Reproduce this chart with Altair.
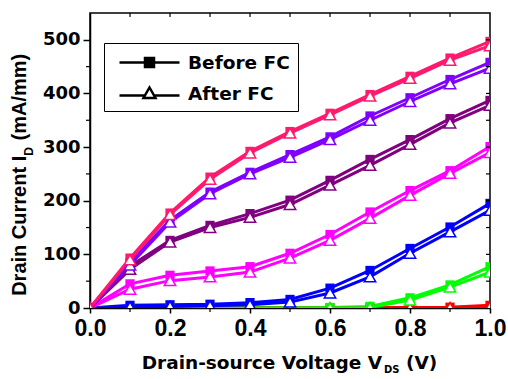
import altair as alt
import pandas as pd

# ---------------- data ----------------
vds = [0.0, 0.1, 0.2, 0.3, 0.4, 0.5, 0.6, 0.7, 0.8, 0.9, 1.0]

series_names = ["s1", "s2", "s3", "s4", "s5", "s6", "s7"]
series_colors = ["#FF0000", "#00FF00", "#0000FF", "#FF00FF", "#800080", "#7F00FF", "#FF1A6E"]

red_before = [0, 0, 0, 0, 0, 0, 0, 0.5, 1, 1.5, 5]
red_after = [0, 0, 0, 0, 0, 0, 0, 0, 0.5, 1, 2]
green_before = [0, 0.5, 0.5, 0.5, 0.5, 0.5, 1, 3, 19, 43, 77]
green_after = [0, 0, 0, 0, 0, 0, 0.5, 1, 15, 39, 67]
blue_before = [0, 5, 6, 7, 10, 16, 37, 70, 111, 151, 195]
blue_after = [0, 2, 3, 4, 6, 11, 28, 58, 102, 142, 182]
magenta_before = [0, 45, 61, 69, 77, 102, 137, 179, 219, 256, 301]
magenta_after = [0, 35, 51, 58, 67, 93, 126, 167, 210, 251, 290]
purple_before = [0, 78, 126, 154, 176, 201, 238, 277, 314, 353, 387]
purple_after = [0, 72, 123, 150, 169, 193, 229, 266, 305, 345, 378]
violet_before = [0, 85, 164, 216, 253, 286, 319, 358, 392, 426, 458]
violet_after = [0, 80, 160, 213, 250, 281, 314, 350, 385, 418, 447]
pink_before = [0, 93, 177, 244, 292, 329, 363, 398, 432, 466, 497]
pink_after = [0, 90, 174, 240, 289, 326, 360, 395, 428, 462, 489]

before_sets = [red_before, green_before, blue_before, magenta_before,
               purple_before, violet_before, pink_before]
after_sets = [red_after, green_after, blue_after, magenta_after,
              purple_after, violet_after, pink_after]

states = ["Before FC", "After FC"]

x_major = [0.0, 0.2, 0.4, 0.6, 0.8, 1.0]
x_minor = [0.1, 0.3, 0.5, 0.7, 0.9]
x_all = [0.1, 0.2, 0.3, 0.4, 0.5, 0.6, 0.7, 0.8, 0.9]
y_major = [0, 100, 200, 300, 400, 500]
y_minor = [50, 150, 250, 350, 450]
y_all = [50, 100, 150, 200, 250, 300, 350, 400, 450, 500]

x_title_main = "Drain-source Voltage V"
x_title_sub = "DS"
x_title_unit = "(V)"
y_title_main = "Drain Current I"
y_title_sub = "D"
y_title_unit = "(mA/mm)"

# ---------------- tables ----------------
rows_b, rows_a = [], []
for name, yb, ya in zip(series_names, before_sets, after_sets):
    for xv, vb, va in zip(vds, yb, ya):
        rows_b.append({"x": xv, "I": vb, "g": name})
        rows_a.append({"x": xv, "I": va, "g": name})
df_b = pd.DataFrame(rows_b)
df_a = pd.DataFrame(rows_a)

xs = alt.Scale(domain=[0, 1], nice=False)
ys = alt.Scale(domain=[0, 550], nice=False)
cs = alt.Scale(domain=series_names, range=series_colors)

x_axis = alt.Axis(values=x_major, format=".1f", title=None, grid=False, tickSize=5,
                  tickWidth=1.5, tickColor="black", domainColor="black", domainWidth=1.5,
                  labelFont="Liberation Sans", labelFontWeight="bold", labelFontSize=23,
                  labelColor="black", labelPadding=4, labelFlush=False, labelOverlap=False)
y_axis = alt.Axis(values=y_major, format="d", title=None, grid=False, tickSize=7,
                  tickWidth=1.5, tickColor="black", domainColor="black", domainWidth=1.5,
                  labelFont="DejaVu Sans", labelFontWeight="bold", labelFontSize=18,
                  labelColor="black", labelPadding=3, labelFlush=False, labelOverlap=False)

X = alt.X("x:Q", scale=xs, axis=x_axis)
Y = alt.Y("I:Q", scale=ys, axis=y_axis)
C = alt.Color("g:N", scale=cs, legend=None)

lines_b = alt.Chart(df_b).mark_line(strokeWidth=3, clip=True).encode(x=X, y=Y, color=C, detail="g:N")
pts_b = alt.Chart(df_b).mark_point(shape="square", filled=True, size=85, opacity=1, clip=True).encode(x=X, y=Y, color=C)
lines_a = alt.Chart(df_a).mark_line(strokeWidth=3, clip=True).encode(x=X, y=Y, color=C, detail="g:N")
pts_a = alt.Chart(df_a).mark_point(shape="triangle-up", filled=False, fill="white", fillOpacity=1,
                                   strokeWidth=1.5, size=130, opacity=1, clip=True).encode(x=X, y=Y, color=C)

# legend (hidden layer providing legend symbols)
sq_path = "M-0.4,0H2.15M3.05,0H5.6M2.15,-0.45H3.05V0.45H2.15Z"
tri_path = "M-0.4,0.2H2.14M3.06,0.2H5.6M2.6,-0.6L3.2,0.45H2.0Z"
leg_kw = dict(orient="none", legendX=14, legendY=30, direction="vertical", title=None,
              padding=8, strokeColor="black", fillColor="white", cornerRadius=0,
              labelFont="DejaVu Sans", labelFontWeight="bold", labelFontSize=18.5,
              labelColor="black", labelOffset=53, symbolSize=400, rowPadding=10,
              symbolStrokeWidth=2.5, symbolOpacity=1, labelLimit=400)
df_leg = pd.DataFrame({"state": states, "x": [0.0, 0.0], "I": [0, 0]})
legend_layer = alt.Chart(df_leg).mark_point(opacity=0, clip=True).encode(
    x=alt.X("x:Q", scale=xs), y=alt.Y("I:Q", scale=ys),
    shape=alt.Shape("state:N", scale=alt.Scale(domain=states, range=[sq_path, tri_path]),
                    legend=alt.Legend(**leg_kw)),
    fill=alt.Fill("state:N", scale=alt.Scale(domain=states, range=["black", "white"]),
                  legend=alt.Legend(**leg_kw)),
    stroke=alt.value("black"),
)

# extra ticks
def tick_df(vals):
    return pd.DataFrame({"v": vals})

top_ticks = alt.Chart(tick_df(x_all)).mark_rule(color="black", strokeWidth=1.2).encode(
    x=alt.X("v:Q", scale=xs), y=alt.value(0), y2=alt.value(4))
bot_minor = alt.Chart(tick_df(x_minor)).mark_rule(color="black", strokeWidth=1.2).encode(
    x=alt.X("v:Q", scale=xs), y=alt.value(295), y2=alt.value(299))
right_ticks = alt.Chart(tick_df(y_all)).mark_rule(color="black", strokeWidth=1.2).encode(
    y=alt.Y("v:Q", scale=ys), x=alt.value(396), x2=alt.value(400))
left_minor = alt.Chart(tick_df(y_minor)).mark_rule(color="black", strokeWidth=1.2).encode(
    y=alt.Y("v:Q", scale=ys), x=alt.value(-4), x2=alt.value(0))

# titles
one = pd.DataFrame({"k": [0]})
def txt(s, size, font, **kw):
    return alt.Chart(one).mark_text(text=s, fontSize=size, font=font, fontWeight="bold",
                                    color="black", **kw)

yt1 = txt(y_title_main, 20, "Liberation Sans", angle=270, align="right", baseline="middle").encode(
    x=alt.value(-70), y=alt.value(142.8))
yt2 = txt(y_title_sub, 12, "Liberation Sans", angle=270, align="left", baseline="middle").encode(
    x=alt.value(-61), y=alt.value(142.8))
yt3 = txt(y_title_unit, 20, "Liberation Sans", angle=270, align="left", baseline="middle").encode(
    x=alt.value(-70), y=alt.value(127.5))
xt1 = txt(x_title_main, 18.5, "DejaVu Sans", align="left", baseline="alphabetic").encode(
    x=alt.value(51.7), y=alt.value(356))
xt2 = txt(x_title_sub, 10, "DejaVu Sans", align="left", baseline="alphabetic").encode(
    x=alt.value(294), y=alt.value(360))
xt3 = txt(x_title_unit, 18.5, "DejaVu Sans", align="left", baseline="alphabetic").encode(
    x=alt.value(316), y=alt.value(356))

chart = alt.layer(
    lines_b, pts_b, lines_a, pts_a, legend_layer,
    top_ticks, bot_minor, right_ticks, left_minor,
    yt1, yt2, yt3, xt1, xt2, xt3,
).resolve_scale(shape="independent", fill="independent").properties(
    width=400, height=295,
    autosize=alt.AutoSizeParams(type="none"),
    padding={"left": 90, "top": 13, "right": 18, "bottom": 71},
    background="white",
).configure_view(stroke="black", strokeWidth=1.5)

chart.save("out.html", embed_options={"renderer": "svg", "actions": False})
